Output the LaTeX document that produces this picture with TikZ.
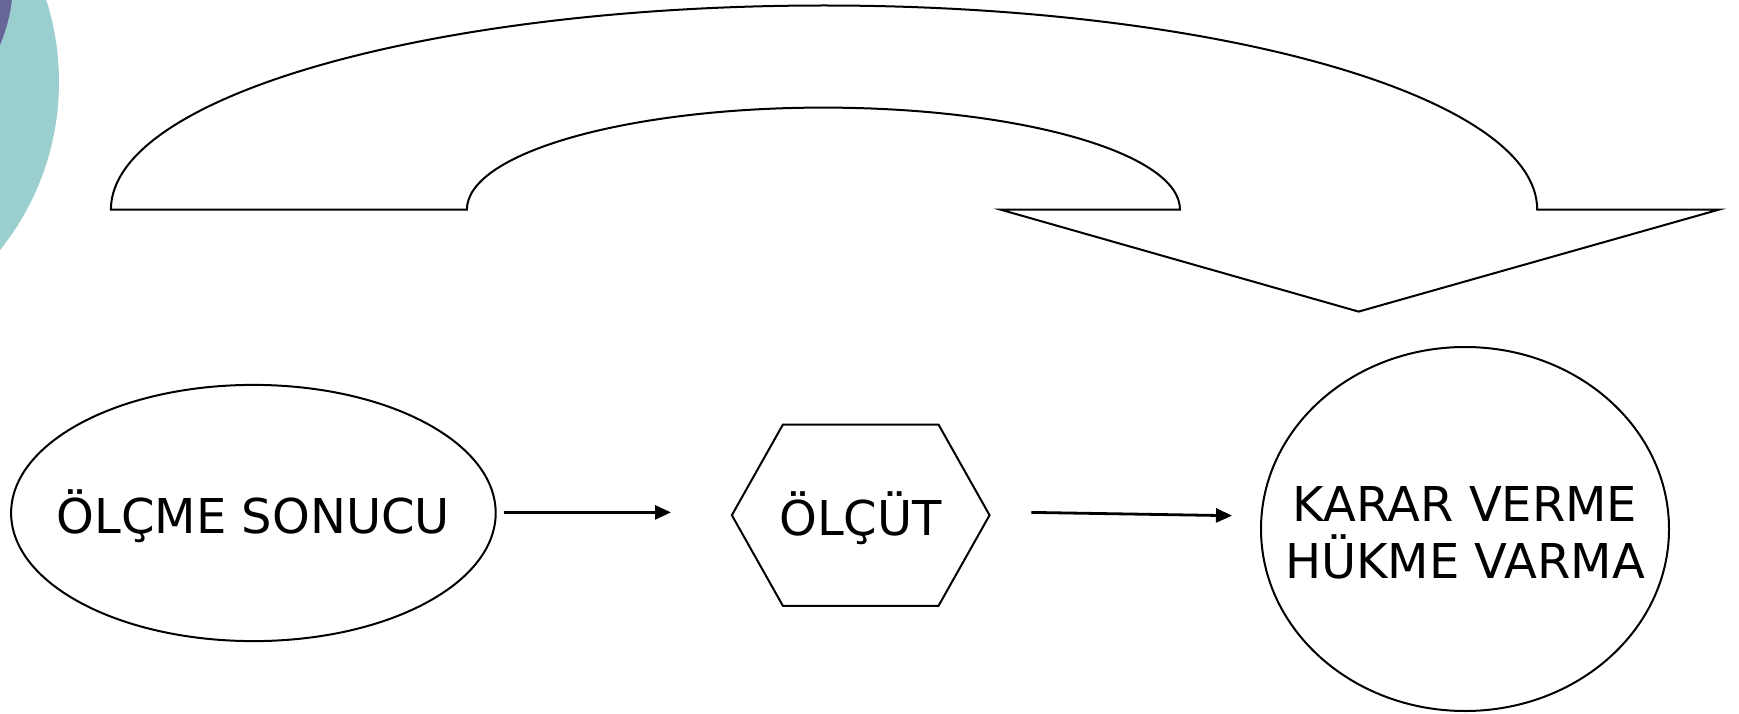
\documentclass[tikz,border=0pt]{standalone}
\usepackage{fontspec}
\setmainfont{DejaVu Sans}
\usetikzlibrary{shapes.geometric,arrows.meta}
\definecolor{tealbg}{RGB}{155,206,206}
\definecolor{purplebg}{RGB}{102,102,153}
\tikzset{
  outline/.style={draw=black,line width=2pt,fill=white},
  lbl/.style={font=\fontsize{48}{57}\selectfont,inner sep=0pt,anchor=base,align=center},
  arr/.style={line width=2.8pt,-{Triangle[length=16pt,width=14pt]}},
}
\begin{document}
\begin{tikzpicture}[x=1pt,y=-1pt]
\useasboundingbox (0,0) rectangle (1739,714);
\begin{scope}
\clip (0,0) rectangle (1739,714);
\fill[tealbg] (-210,82) circle[radius=269pt];
\fill[purplebg] (-150,-19) circle[radius=163pt];
\end{scope}
% big curved arrow
\coordinate (oL) at (110.9,209.6);
\coordinate (iR) at (1180,209.6);
\draw[outline,line join=miter] (oL) arc[start angle=180,end angle=0,x radius=713.15pt,y radius=204.1pt]
  -- (1719,209.6) coordinate (wR) -- (1358.6,311.6) coordinate (tip) -- (1000.4,209.6) coordinate (wL)
  -- (iR) arc[start angle=0,end angle=180,x radius=356.55pt,y radius=102pt] -- cycle;
% shapes
\node[ellipse,outline,minimum width=484.6pt,minimum height=256.2pt,inner sep=0pt] (e1) at (253.4,513) {};
\node[ellipse,outline,minimum width=408pt,minimum height=364pt,inner sep=0pt] (e3) at (1465,529) {};
\node[draw=none,minimum width=257.3pt,minimum height=180.7pt,inner sep=0pt] (hex) at (860.7,515.2) {};
\draw[outline] (hex.west) -- ([xshift=51pt]hex.north west) -- ([xshift=-51pt]hex.north east)
  -- (hex.east) -- ([xshift=-51pt]hex.south east) -- ([xshift=51pt]hex.south west) -- cycle;
% labels
\node[lbl] (t1) at (253.4,533) {ÖLÇME SONUCU};
\node[lbl] (t2) at (860.7,535) {ÖLÇÜT};
\node[lbl] (t3) at (1465,578) {KARAR VERME\\HÜKME VARMA};
% connectors
\coordinate (a1s) at (503.5,512.4);
\coordinate (a1e) at (671,512.4);
\coordinate (a2s) at (1031.4,512.4);
\coordinate (a2e) at (1232,515.7);
\draw[arr] (a1s) -- (a1e);
\draw[arr] (a2s) -- (a2e);
\end{tikzpicture}
\end{document}
